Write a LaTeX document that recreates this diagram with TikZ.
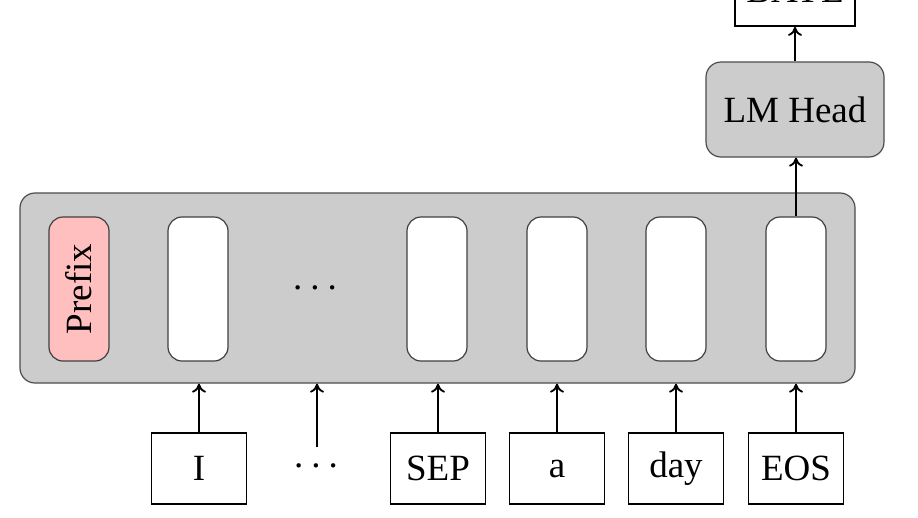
\documentclass[tikz,border=0pt]{standalone}
\usepackage{fontspec}
\setmainfont{Liberation Serif}
\usetikzlibrary{arrows.meta}
\newcommand{\mydots}{.\hspace{8pt}.\hspace{8pt}.}
\begin{document}
\begin{tikzpicture}[x=1pt,y=-1pt,
  every node/.style={font=\fontsize{37}{44}\selectfont, inner sep=0pt},
  outerbox/.style={draw=black!70, line width=1.2pt, fill=black!20, rounded corners=15pt},
  cell/.style={draw=black!75, line width=1.2pt, fill=white, rounded corners=14pt, minimum width=60pt, minimum height=144pt},
  tok/.style={draw=black, line width=1.7pt, fill=white, minimum width=95pt, minimum height=71pt},
  arr/.style={-{To[length=9pt,width=14pt]}, line width=1.8pt},
  dotsnode/.style={font=\fontsize{37}{44}\selectfont}
]
\useasboundingbox (0,0) rectangle (918,517);
\node[outerbox, minimum width=835pt, minimum height=190pt] (big) at (437.5,288) {};
\node[cell, fill=red!25] (c1) at (79,289) {\rotatebox{90}{Prefix}};
\node[cell] (c2) at (198,289) {};
\node[dotsnode] (cd) at (315,288) {\mydots};
\node[cell] (c4) at (437,289) {};
\node[cell] (c5) at (557,289) {};
\node[cell] (c6) at (676,289) {};
\node[cell] (c7) at (796,289) {};
\node[tok] (t2) at (199,468.5) {I};
\node[dotsnode] (td) at (316,466) {\mydots};
\coordinate (tdtop) at (317,447);
\node[tok] (t4) at (438,468.5) {SEP};
\node[tok] (t5) at (557,468.5) {a};
\node[tok] (t6) at (676,468.5) {day};
\node[tok] (t7) at (796,468.5) {EOS};
\node[outerbox, minimum width=178pt, minimum height=95pt] (lm) at (795,109.5) {LM Head};
\node[tok, minimum width=120pt] (out) at (795,-9.5) {BAYE};
\foreach \t in {t2,t4,t5,t6,t7}{
  \draw[arr] (\t.north) -- (\t.north |- big.south);
}
\draw[arr] (tdtop) -- (tdtop |- big.south);
\draw[arr] (c7.north) -- (c7.north |- lm.south);
\draw[arr] (lm.north) -- (lm.north |- out.south);
\end{tikzpicture}
\end{document}
